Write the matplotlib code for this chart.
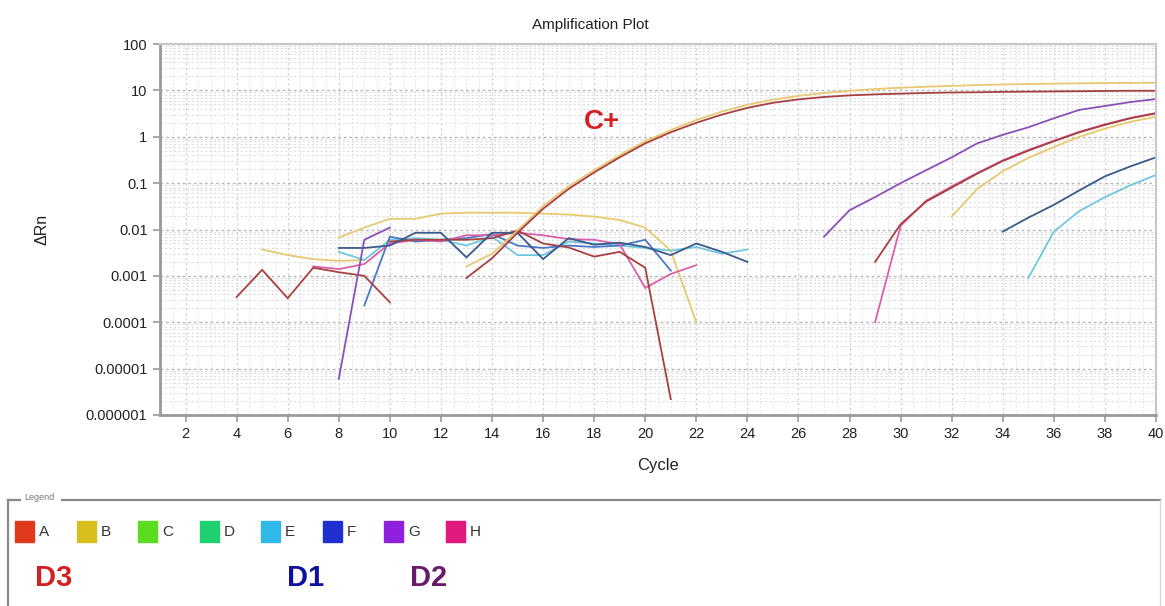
import matplotlib
matplotlib.use("Agg")
import matplotlib.pyplot as plt
import matplotlib.patches as patches
from matplotlib.lines import Line2D
from matplotlib.ticker import FixedLocator, NullFormatter, LogLocator

plt.rcParams['font.family'] = ['Liberation Sans', 'DejaVu Sans']

# ---- data ----
# positive control (C+), cycles 13..40
cpos_cycles = list(range(13, 41))
cpos_a = [0.0009, 0.0024, 0.0085, 0.028, 0.075, 0.17, 0.36, 0.72, 1.25, 2.0, 3.0, 4.2, 5.4, 6.4,
          7.2, 7.8, 8.2, 8.5, 8.8, 9.0, 9.1, 9.3, 9.4, 9.5, 9.6, 9.7, 9.8, 9.8]
cpos_b = [0.0016, 0.003, 0.0095, 0.032, 0.085, 0.19, 0.4, 0.8, 1.4, 2.3, 3.5, 4.9, 6.3, 7.6,
          8.8, 9.8, 10.7, 11.4, 12.0, 12.5, 13.0, 13.4, 13.7, 14.0, 14.2, 14.4, 14.5, 14.6]

# baseline noise segments
a_noise1_cycles = [4, 5, 6, 7, 8, 9, 10]
a_noise1 = [0.00035, 0.00135, 0.00033, 0.0015, 0.0012, 0.001, 0.00027]
a_noise2_cycles = list(range(10, 22))
a_noise2 = [0.0055, 0.006, 0.006, 0.006, 0.0065, 0.0095, 0.005, 0.0041, 0.0026, 0.0033, 0.0015, 0.0000022]

b_noise1_cycles = [5, 6, 7, 8, 9]
b_noise1 = [0.0037, 0.0028, 0.0023, 0.0021, 0.0022]
b_noise2_cycles = list(range(8, 23))
b_noise2 = [0.0067, 0.011, 0.017, 0.017, 0.022, 0.023, 0.023, 0.023, 0.022, 0.021, 0.019, 0.016,
            0.011, 0.0035, 0.0001]

e_noise_cycles = list(range(8, 25))
e_noise = [0.0033, 0.0022, 0.006, 0.0065, 0.006, 0.0045, 0.007, 0.0028, 0.0028, 0.0055, 0.005,
           0.0045, 0.004, 0.0035, 0.0042, 0.003, 0.0037]

f_noise_cycles = list(range(8, 25))
f_noise = [0.004, 0.004, 0.0045, 0.0085, 0.0085, 0.0025, 0.0085, 0.0085, 0.0023, 0.0065, 0.0047,
           0.0052, 0.0042, 0.0028, 0.005, 0.0033, 0.002]

f2_noise_cycles = list(range(9, 22))
f2_noise = [0.00023, 0.007, 0.0055, 0.006, 0.0065, 0.008, 0.0045, 0.004, 0.0045, 0.0042, 0.0045,
            0.006, 0.0013]

g_noise_cycles = [8, 9, 10]
g_noise = [0.000006, 0.006, 0.011]

h_noise_cycles = list(range(7, 23))
h_noise = [0.0016, 0.0014, 0.0018, 0.005, 0.006, 0.0055, 0.0075, 0.0075, 0.0085, 0.0075, 0.0062,
           0.006, 0.0048, 0.00055, 0.0011, 0.0017]

# late amplification curves
g_amp_cycles = list(range(27, 41))
g_amp = [0.007, 0.026, 0.05, 0.1, 0.19, 0.36, 0.72, 1.1, 1.6, 2.5, 3.8, 4.6, 5.6, 6.5]
a_amp_cycles = list(range(29, 41))
a_amp = [0.002, 0.013, 0.04, 0.08, 0.16, 0.3, 0.5, 0.8, 1.25, 1.8, 2.5, 3.2]
h_amp_cycles = list(range(29, 41))
h_amp = [0.0001, 0.012, 0.042, 0.085, 0.165, 0.31, 0.52, 0.82, 1.28, 1.85, 2.55, 3.25]
b_amp_cycles = list(range(32, 41))
b_amp = [0.019, 0.075, 0.18, 0.35, 0.6, 1.0, 1.5, 2.1, 2.7]
f_amp_cycles = list(range(34, 41))
f_amp = [0.009, 0.018, 0.034, 0.07, 0.14, 0.23, 0.36]
e_amp_cycles = list(range(35, 41))
e_amp = [0.0009, 0.009, 0.025, 0.05, 0.09, 0.15]

legend_labels = ['A', 'B', 'C', 'D', 'E', 'F', 'G', 'H']
legend_colors = ['#E03A1E', '#D8BF20', '#5ADC20', '#20D070', '#30B8E8', '#2030D0', '#9020E0', '#E01880']

sample_labels = ['D3', 'D1', 'D2']
sample_colors = ['#D42020', '#1010A0', '#6A1A6A']

# line colours as they appear in the plot
col_a = '#A84040'
col_b = '#E8C870'
col_e = '#70C8E0'
col_f = '#3A5A8C'
col_f2 = '#4A78C8'
col_g = '#8A50B8'
col_h = '#D860A8'

W, H = 1165, 606
fig = plt.figure(figsize=(W / 100, H / 100), dpi=100)
ax = fig.add_axes([160 / W, 1 - 415 / H, 996 / W, 371 / H])

segments = [
    (b_noise1_cycles, b_noise1, col_b),
    (b_noise2_cycles, b_noise2, col_b),
    (e_noise_cycles, e_noise, col_e),
    (f2_noise_cycles, f2_noise, col_f2),
    (h_noise_cycles, h_noise, col_h),
    (a_noise1_cycles, a_noise1, col_a),
    (a_noise2_cycles, a_noise2, col_a),
    (f_noise_cycles, f_noise, col_f),
    (g_noise_cycles, g_noise, col_g),
    (cpos_cycles, cpos_b, col_b),
    (cpos_cycles, cpos_a, col_a),
    (g_amp_cycles, g_amp, col_g),
    (b_amp_cycles, b_amp, col_b),
    (h_amp_cycles, h_amp, col_h),
    (a_amp_cycles, a_amp, col_a),
    (f_amp_cycles, f_amp, col_f),
    (e_amp_cycles, e_amp, col_e),
]
for xs, ys, c in segments:
    ax.plot(xs, ys, color=c, lw=1.3, solid_joinstyle='miter')

ax.set_yscale('log')
ax.set_ylim(1e-6, 100)
ax.set_xlim(1, 40)

ax.xaxis.set_major_locator(FixedLocator(list(range(2, 41, 2))))
ax.xaxis.set_minor_locator(FixedLocator([i * 0.5 for i in range(2, 81)]))
ax.yaxis.set_major_locator(FixedLocator([1e-6, 1e-5, 1e-4, 1e-3, 1e-2, 0.1, 1, 10, 100]))
ax.yaxis.set_minor_locator(LogLocator(base=10, subs=[2, 3, 4, 5, 6, 7, 8, 9], numticks=20))
ax.yaxis.set_minor_formatter(NullFormatter())
ax.set_yticklabels(['0.000001', '0.00001', '0.0001', '0.001', '0.01', '0.1', '1', '10', '100'])

ax.grid(which='major', axis='y', color='#b8b8b8', linestyle=(0, (2, 2)), lw=1.0)
ax.grid(which='minor', axis='y', color='#dedede', linestyle=(0, (2, 2)), lw=0.8)
ax.grid(which='major', axis='x', color='#d4d4d4', linestyle=(0, (2, 2)), lw=0.9)
ax.grid(which='minor', axis='x', color='#e6e6e6', linestyle=(0, (2, 2)), lw=0.7)
ax.set_axisbelow(True)

for side in ['left', 'bottom']:
    ax.spines[side].set_color('#9a9a9a')
    ax.spines[side].set_linewidth(2)
for side in ['top', 'right']:
    ax.spines[side].set_color('#c8c8c8')
    ax.spines[side].set_linewidth(1.5)

ax.tick_params(which='major', length=5, width=1.2, color='#9a9a9a', labelsize=10.5,
               labelcolor='#222222', pad=4)
ax.tick_params(which='minor', length=0)

ax.set_xlabel('Cycle', fontsize=12, color='#222222', labelpad=12)
ax.set_ylabel('ΔRn', fontsize=11.5, color='#222222', labelpad=26)
ax.text(17.6, 1.45, 'C+', color='#D42020', fontsize=20, fontweight='bold')

fig.text(590 / W, 1 - 25 / H, 'Amplification Plot', ha='center', va='center', fontsize=11,
         color='#222222')

# legend panel
lg = fig.add_axes([0, 0, 1, 1])
lg.set_xlim(0, W)
lg.set_ylim(H, 0)
lg.axis('off')
lg.add_line(Line2D([8, 20], [500, 500], color='#8a8a8a', lw=1.6))
lg.add_line(Line2D([62, 1160], [500, 500], color='#8a8a8a', lw=1.6))
lg.add_line(Line2D([8, 8], [500, 606], color='#8a8a8a', lw=1.6))
lg.add_line(Line2D([1160, 1160], [500, 606], color='#d8d8d8', lw=1.0))
lg.text(24, 498, 'Legend', fontsize=6.5, color='#777777', va='center')

for i, (lab, c) in enumerate(zip(legend_labels, legend_colors)):
    x0 = 15 + i * 61.5
    lg.add_patch(patches.Rectangle((x0, 521), 19, 21, color=c))
    lg.text(x0 + 24, 532, lab, fontsize=11, color='#333333', va='center')

sample_x = [35, 287, 410]
for lab, c, sx in zip(sample_labels, sample_colors, sample_x):
    lg.text(sx, 578, lab, fontsize=21, fontweight='bold', color=c, va='center')

fig.savefig('out.png', dpi=100)
